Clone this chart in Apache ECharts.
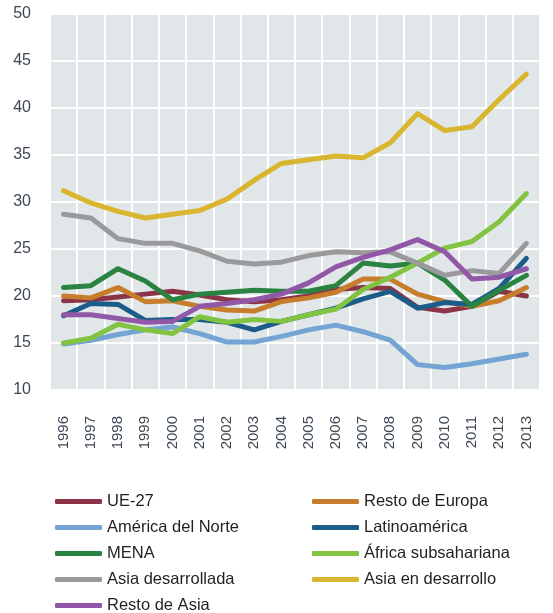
<!DOCTYPE html>
<html>
<head>
<meta charset="utf-8">
<script src="https://cdn.jsdelivr.net/npm/echarts@6/dist/echarts.min.js"></script>
<style>
  html, body { margin: 0; padding: 0; background: #fff; }
  #chart { width: 553px; height: 613px; }
</style>
</head>
<body>
<div id="chart"></div>
<script>
const years = ['1996', '1997', '1998', '1999', '2000', '2001', '2002', '2003', '2004',
  '2005', '2006', '2007', '2008', '2009', '2010', '2011', '2012', '2013'];

const ue27 = [19.5, 19.6, 19.9, 20.2, 20.5, 20.1, 19.6, 19.4, 19.6, 20.0, 20.7, 20.9, 20.8, 18.8, 18.4, 18.9, 20.5, 20.0];
const restoEuropa = [20.0, 19.8, 20.9, 19.4, 19.5, 18.9, 18.5, 18.4, 19.4, 19.8, 20.4, 21.8, 21.8, 20.2, 19.4, 18.9, 19.5, 20.9];
const americaNorte = [14.9, 15.3, 15.9, 16.4, 16.7, 16.0, 15.1, 15.1, 15.7, 16.4, 16.9, 16.2, 15.3, 12.7, 12.4, 12.8, 13.3, 13.8];
const latinoamerica = [17.9, 19.2, 19.1, 17.4, 17.5, 17.5, 17.2, 16.4, 17.3, 18.0, 18.7, 19.7, 20.5, 18.7, 19.3, 19.1, 20.8, 24.0];
const mena = [20.9, 21.1, 22.9, 21.6, 19.6, 20.2, 20.4, 20.6, 20.5, 20.5, 21.1, 23.5, 23.2, 23.5, 21.7, 18.9, 20.6, 22.2];
const africa = [15.0, 15.5, 17.0, 16.4, 16.0, 17.8, 17.2, 17.5, 17.3, 18.0, 18.6, 20.7, 22.0, 23.5, 25.1, 25.8, 27.9, 30.9];
const asiaDesarrollada = [28.7, 28.3, 26.1, 25.6, 25.6, 24.8, 23.7, 23.4, 23.6, 24.3, 24.7, 24.6, 24.7, 23.5, 22.2, 22.7, 22.4, 25.6];
const asiaEnDesarrollo = [31.2, 29.9, 29.0, 28.3, 28.7, 29.1, 30.3, 32.3, 34.1, 34.5, 34.9, 34.7, 36.3, 39.4, 37.6, 38.0, 40.9, 43.6];
const restoAsia = [18.0, 18.0, 17.6, 17.2, 17.3, 18.9, 19.2, 19.6, 20.2, 21.4, 23.1, 24.1, 24.9, 26.0, 24.7, 21.8, 22.0, 22.9];

const yTicks = [10, 15, 20, 25, 30, 35, 40, 45, 50];

const names = ['UE-27', 'Resto de Europa', 'América del Norte', 'Latinoamérica', 'MENA',
  'África subsahariana', 'Asia desarrollada', 'Asia en desarrollo', 'Resto de Asia'];
const colors = ['#8b3448', '#c77e2c', '#74a4d3', '#1c5c88', '#2a8341',
  '#83c342', '#9a9a9c', '#d9b530', '#9158a8'];
const values = [ue27, restoEuropa, americaNorte, latinoamerica, mena,
  africa, asiaDesarrollada, asiaEnDesarrollo, restoAsia];

const font = "'Liberation Sans', Arial, sans-serif";

const myChart = echarts.init(document.getElementById('chart'));

const legendBase = {
  orient: 'vertical',
  top: 487,
  height: 130,
  icon: 'roundRect',
  itemWidth: 47,
  itemHeight: 5,
  itemGap: 7,
  selectedMode: false,
  textStyle: {
    fontFamily: font,
    fontSize: 16.5,
    lineHeight: 19,
    color: '#231f20'
  }
};

myChart.setOption({
  animation: false,
  color: colors,
  grid: {
    left: 50,
    right: 13,
    top: 14,
    bottom: 223,
    show: true,
    backgroundColor: '#e1e6e9',
    borderWidth: 0
  },
  legend: [
    Object.assign({}, legendBase, {
      left: 50,
      data: ['UE-27', 'América del Norte', 'MENA', 'Asia desarrollada', 'Resto de Asia']
    }),
    Object.assign({}, legendBase, {
      left: 307,
      data: ['Resto de Europa', 'Latinoamérica', 'África subsahariana', 'Asia en desarrollo']
    })
  ],
  xAxis: {
    type: 'category',
    data: years,
    boundaryGap: true,
    axisLine: { show: false },
    axisTick: { show: false },
    splitLine: { show: true, interval: 0, lineStyle: { color: '#ffffff', width: 2 } },
    axisLabel: {
      rotate: 90,
      margin: 26,
      interval: 0,
      fontFamily: font,
      fontSize: 15,
      color: '#3d4854'
    }
  },
  yAxis: {
    type: 'value',
    min: yTicks[0],
    max: yTicks[yTicks.length - 1],
    interval: 5,
    axisLine: { show: false },
    axisTick: { show: false },
    splitLine: { lineStyle: { color: '#ffffff', width: 2 } },
    axisLabel: {
      margin: 19,
      fontFamily: font,
      fontSize: 16,
      color: '#3d4854'
    }
  },
  series: names.map((n, i) => ({
    name: n,
    type: 'line',
    data: values[i],
    showSymbol: false,
    symbol: 'none',
    lineStyle: { width: 5, cap: 'round', join: 'round', color: colors[i] }
  }))
});
</script>
</body>
</html>
